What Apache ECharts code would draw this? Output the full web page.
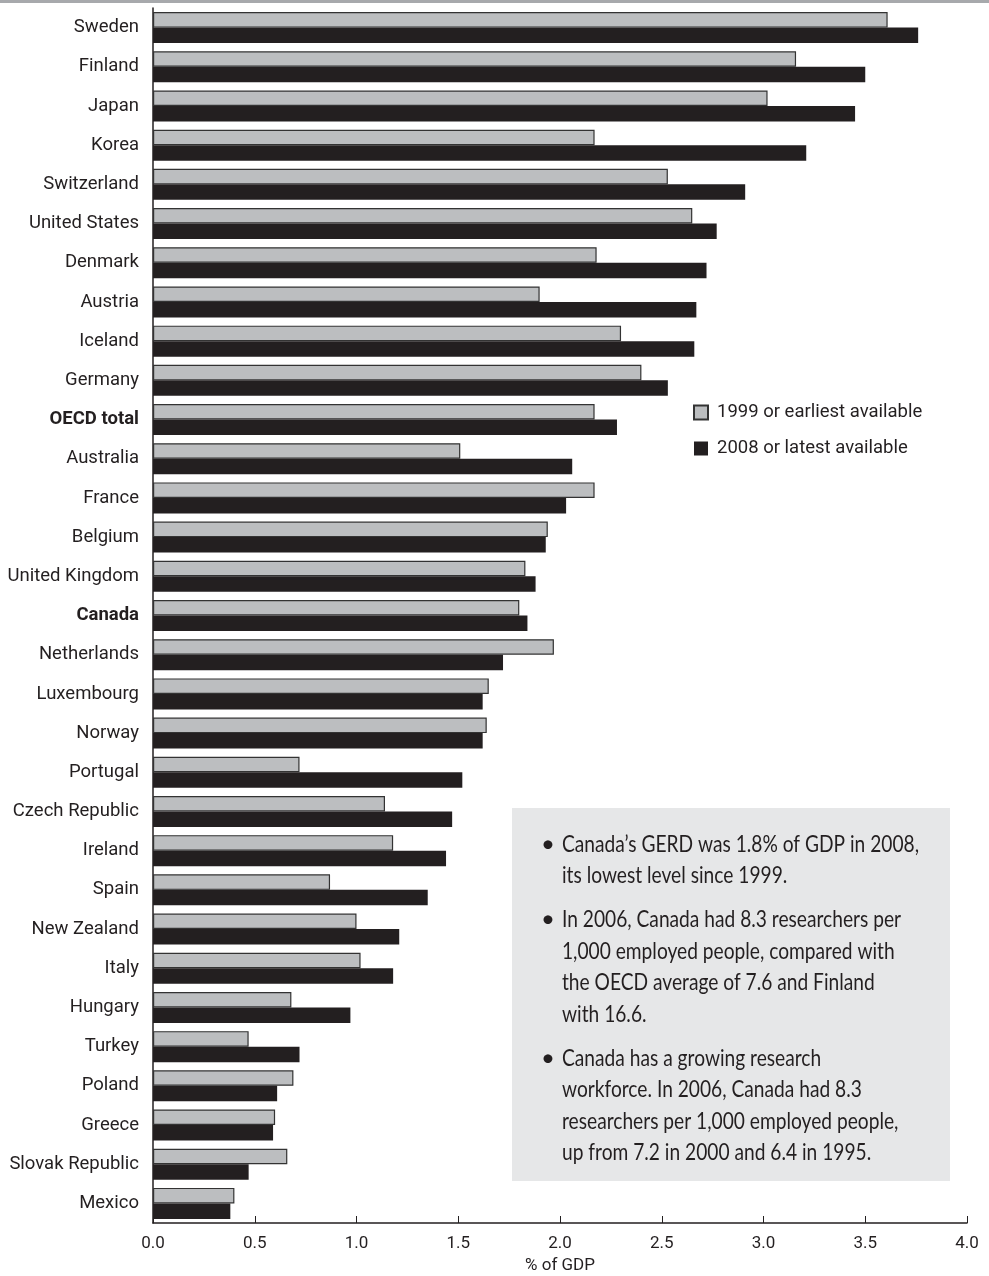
<!DOCTYPE html>
<html>
<head>
<meta charset="utf-8">
<script src="https://cdn.jsdelivr.net/npm/echarts@6/dist/echarts.min.js"></script>
<style>
  html, body { margin: 0; padding: 0; background: #fff; }
  #chart { width: 989px; height: 1276px; }
</style>
</head>
<body>
<div id="chart"></div>
<script>
// 国家（从上到下）
var countries = ['Sweden', 'Finland', 'Japan', 'Korea', 'Switzerland', 'United States', 'Denmark',
  'Austria', 'Iceland', 'Germany', 'OECD total', 'Australia', 'France', 'Belgium', 'United Kingdom',
  'Canada', 'Netherlands', 'Luxembourg', 'Norway', 'Portugal', 'Czech Republic', 'Ireland', 'Spain',
  'New Zealand', 'Italy', 'Hungary', 'Turkey', 'Poland', 'Greece', 'Slovak Republic', 'Mexico'];

// 1999 or earliest available
var earliest = [3.61, 3.16, 3.02, 2.17, 2.53, 2.65, 2.18, 1.90, 2.30, 2.40, 2.17, 1.51, 2.17, 1.94,
  1.83, 1.80, 1.97, 1.65, 1.64, 0.72, 1.14, 1.18, 0.87, 1.00, 1.02, 0.68, 0.47, 0.69, 0.60, 0.66, 0.40];

// 2008 or latest available
var latest = [3.76, 3.50, 3.45, 3.21, 2.91, 2.77, 2.72, 2.67, 2.66, 2.53, 2.28, 2.06, 2.03, 1.93,
  1.88, 1.84, 1.72, 1.62, 1.62, 1.52, 1.47, 1.44, 1.35, 1.21, 1.18, 0.97, 0.72, 0.61, 0.59, 0.47, 0.38];

var boldNames = ['OECD total', 'Canada'];
var seriesNames = ['1999 or earliest available', '2008 or latest available'];

// 文本框内容，每段一组行
var notes = [
  ['Canada\u2019s GERD was 1.8% of GDP in 2008,', 'its lowest level since 1999.'],
  ['In 2006, Canada had 8.3 researchers per', '1,000 employed people, compared with',
   'the OECD average of 7.6 and Finland', 'with 16.6.'],
  ['Canada has a growing research', 'workforce. In 2006, Canada had 8.3',
   'researchers per 1,000 employed people,', 'up from 7.2 in 2000 and 6.4 in 1995.']
];

var ink = '#231f20';
var noteFont = 'Lato';
var noteSize = 24;

// 让说明文字接近窄体字宽
var cv = document.createElement('canvas').getContext('2d');
cv.font = noteSize + 'px ' + noteFont;
var noteScale = 357 / cv.measureText(notes[0][0]).width;

var noteEls = [];
var y = 844;
for (var i = 0; i < notes.length; i++) {
  noteEls.push({
    type: 'text', x: 541, y: y,
    style: { text: '\u2022', fontSize: noteSize, fontFamily: noteFont, fill: ink, textVerticalAlign: 'middle' }
  });
  for (var j = 0; j < notes[i].length; j++) {
    noteEls.push({
      type: 'text', x: 562, y: y, scaleX: noteScale,
      style: { text: notes[i][j], fontSize: noteSize, fontFamily: noteFont, fill: ink, textVerticalAlign: 'middle' }
    });
    y += 31.5;
  }
  y += 12.5;
}

var chart = echarts.init(document.getElementById('chart'));

var option = {
  animation: false,
  textStyle: { fontFamily: 'Roboto', color: ink },
  grid: { left: 153, right: 22, top: 8, bottom: 53, containLabel: false, outerBoundsMode: 'none' },
  legend: {
    orient: 'vertical',
    left: 693, top: 403,
    padding: 0,
    itemWidth: 14, itemHeight: 14, itemGap: 17,
    icon: 'rect',
    data: seriesNames,
    textStyle: { fontSize: 18.5, color: ink, fontFamily: 'Roboto', padding: [0, 0, 0, 4] }
  },
  xAxis: {
    type: 'value',
    min: 0, max: 4, interval: 0.5,
    name: '% of GDP',
    nameLocation: 'middle',
    nameGap: 34,
    nameTextStyle: { fontSize: 17, color: ink, fontFamily: 'Roboto' },
    axisLine: { show: true, lineStyle: { color: ink, width: 1.5 } },
    axisTick: { show: true, inside: true, length: 7, lineStyle: { color: ink, width: 1 } },
    axisLabel: {
      fontSize: 17, color: ink, margin: 12,
      formatter: function (v) { return v.toFixed(1); }
    },
    splitLine: { show: false }
  },
  yAxis: {
    type: 'category',
    inverse: true,
    data: countries,
    axisLine: { show: true, lineStyle: { color: ink, width: 1.5 } },
    axisTick: { show: false },
    axisLabel: {
      fontSize: 18.5, color: ink, margin: 14,
      formatter: function (v) {
        return boldNames.indexOf(v) >= 0 ? '{b|' + v + '}' : v;
      },
      rich: { b: { fontWeight: 'bold', fontSize: 18.5, color: ink } }
    }
  },
  series: [
    {
      name: seriesNames[0],
      type: 'bar',
      data: earliest,
      barWidth: 15.5,
      barGap: '0%',
      itemStyle: { color: '#bcbec0', borderColor: '#333', borderWidth: 1.2 }
    },
    {
      name: seriesNames[1],
      type: 'bar',
      data: latest,
      barWidth: 15.5,
      barGap: '0%',
      itemStyle: { color: ink }
    }
  ],
  graphic: [
    { type: 'rect', left: 0, top: 0, shape: { width: 989, height: 3 }, style: { fill: '#a7a9ac' } },
    { type: 'rect', x: 512, y: 808, z: -1, shape: { width: 438, height: 373 }, style: { fill: '#e6e7e8' } },
    { type: 'group', children: noteEls }
  ]
};

chart.setOption(option);
</script>
</body>
</html>
